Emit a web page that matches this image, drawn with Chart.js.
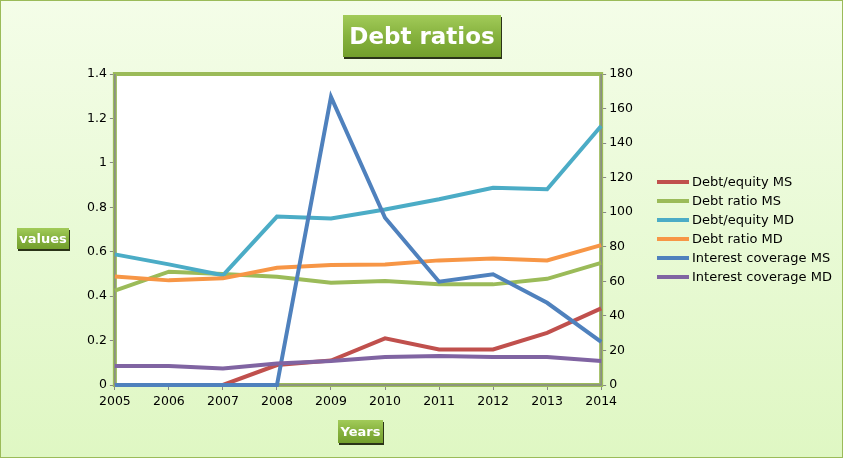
<!DOCTYPE html>
<html>
<head>
<meta charset="utf-8">
<script src="https://cdn.jsdelivr.net/npm/chart.js@4"></script>
<style>
  html, body { margin: 0; padding: 0; }
  #wrap {
    position: relative; width: 843px; height: 458px; box-sizing: border-box;
    border: 1px solid #9BBB59;
    background: linear-gradient(to bottom, #f4fde8 0%, #e9fad6 50%, #dff7c3 100%);
    overflow: hidden;
  }
  canvas { position: absolute; left: 0; top: 0; }
  .tbox {
    position: absolute; color: #fff; font-family: 'DejaVu Sans', sans-serif; font-weight: bold;
    background: linear-gradient(to bottom, #a2cb59 0%, #86b23e 50%, #739f2c 100%);
    box-shadow: 1px 2px 0 #2a3318;
    text-align: center; white-space: nowrap;
  }
</style>
</head>
<body>
<div id="wrap">
  <canvas id="c" width="843" height="458"></canvas>
  <div class="tbox" style="left:342px; top:14px; width:158px; height:42px; line-height:42px; font-size:23px;">Debt ratios</div>
  <div class="tbox" style="left:16px; top:227px; width:52px; height:21px; line-height:21px; font-size:13px;">values</div>
  <div class="tbox" style="left:337px; top:419px; width:45px; height:23px; line-height:23px; font-size:13px;">Years</div>
</div>
<script>
// ---- data ----
const years = ['2005', '2006', '2007', '2008', '2009', '2010', '2011', '2012', '2013', '2014'];
const seriesNames = ['Debt/equity MS', 'Debt ratio MS', 'Debt/equity MD', 'Debt ratio MD', 'Interest coverage MS', 'Interest coverage MD'];
const debtEquityMS = [0, 0, 0, 0.09, 0.11, 0.21, 0.16, 0.16, 0.235, 0.345];
const debtRatioMS = [0.425, 0.51, 0.50, 0.487, 0.46, 0.468, 0.453, 0.453, 0.478, 0.55];
const debtEquityMD = [0.588, 0.543, 0.494, 0.758, 0.75, 0.79, 0.836, 0.888, 0.881, 1.166];
const debtRatioMD = [0.488, 0.471, 0.48, 0.528, 0.54, 0.543, 0.561, 0.569, 0.561, 0.63];
const interestCoverageMS = [0, 0, 0, 0, 166.7, 96.8, 59.8, 64.1, 47.6, 24.9];
const interestCoverageMD = [11, 11, 9.6, 12.5, 13.9, 16.2, 16.8, 16.2, 16.2, 13.9];
const leftAxisRange = [0, 1.4, 0.2];
const rightAxisRange = [0, 180, 20];
// ----------------

const colors = ['#C0504D', '#9BBB59', '#4BACC6', '#F79646', '#4F81BD', '#8064A2'];
const values = [debtEquityMS, debtRatioMS, debtEquityMD, debtRatioMD, interestCoverageMS, interestCoverageMD];
const axisOf = ['y', 'y', 'y', 'y', 'y1', 'y1'];

const datasets = values.map((v, i) => ({
  label: seriesNames[i],
  data: v,
  yAxisID: axisOf[i],
  borderColor: colors[i],
  backgroundColor: colors[i],
  borderWidth: 4,
  pointRadius: 0,
  pointHoverRadius: 0,
  tension: 0,
  clip: false,
  order: values.length - i
}));

const FONT = 'DejaVu Sans';

const framePlugin = {
  id: 'frame',
  beforeDraw(chart) {
    const { ctx, chartArea: a } = chart;
    ctx.save();
    ctx.fillStyle = '#ffffff';
    ctx.fillRect(a.left, a.top, a.right - a.left, a.bottom - a.top);
    ctx.restore();
  },
  beforeDatasetsDraw(chart) {
    const { ctx, chartArea: a } = chart;
    ctx.save();
    ctx.strokeStyle = '#9BBB59';
    ctx.lineWidth = 4;
    ctx.strokeRect(a.left, a.top, a.right - a.left, a.bottom - a.top);
    ctx.strokeStyle = '#8a8a8a';
    ctx.lineWidth = 1.5;
    ctx.beginPath();
    ctx.moveTo(a.left, a.top); ctx.lineTo(a.left, a.bottom);
    ctx.lineTo(a.right, a.bottom); ctx.lineTo(a.right, a.top);
    ctx.stroke();
    ctx.restore();
  },
  afterDraw(chart) {
    // legend drawn from the chart's own datasets
    const { ctx } = chart;
    const x0 = 656, y0 = 181, rowH = 19;
    ctx.save();
    ctx.font = '13px "' + FONT + '"';
    ctx.textBaseline = 'middle';
    ctx.textAlign = 'left';
    chart.data.datasets.forEach((ds, i) => {
      const y = y0 + i * rowH;
      ctx.fillStyle = ds.borderColor;
      ctx.fillRect(x0, y - 2, 32, 4);
      ctx.fillStyle = '#000';
      ctx.fillText(ds.label, x0 + 35, y + 0.5);
    });
    ctx.restore();
  }
};

new Chart(document.getElementById('c'), {
  type: 'line',
  data: { labels: years, datasets },
  plugins: [framePlugin],
  options: {
    responsive: false,
    animation: false,
    events: [],
    layout: { padding: { top: 73, left: 83, right: 208, bottom: 46 } },
    plugins: {
      title: { display: false },
      tooltip: { enabled: false },
      legend: { display: false }
    },
    scales: {
      x: {
        type: 'category',
        offset: false,
        grid: { drawOnChartArea: false, drawTicks: true, tickLength: 5, color: '#868686' },
        border: { display: false },
        ticks: { color: '#000', font: { family: FONT, size: 12.5 }, maxRotation: 0, autoSkip: false, padding: 4 }
      },
      y: {
        position: 'left',
        min: leftAxisRange[0], max: leftAxisRange[1],
        grid: { drawOnChartArea: false, drawTicks: true, tickLength: 5, color: '#868686' },
        border: { display: false },
        ticks: {
          stepSize: leftAxisRange[2], color: '#000', font: { family: FONT, size: 12.5 }, padding: 3,
          callback: v => String(+Number(v).toFixed(1))
        }
      },
      y1: {
        position: 'right',
        min: rightAxisRange[0], max: rightAxisRange[1],
        grid: { drawOnChartArea: false, drawTicks: true, tickLength: 5, color: '#868686' },
        border: { display: false },
        ticks: { stepSize: rightAxisRange[2], color: '#000', font: { family: FONT, size: 12.5 }, padding: 3 }
      }
    }
  }
});
</script>
</body>
</html>
